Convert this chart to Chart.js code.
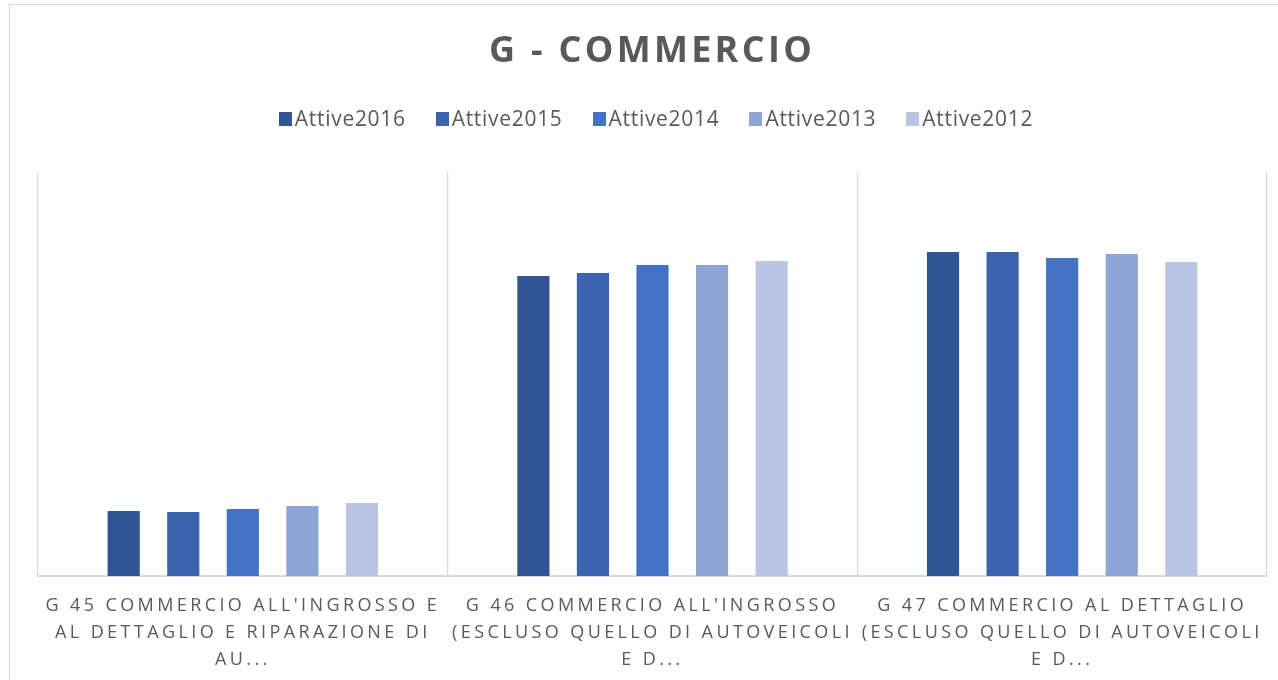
<!DOCTYPE html>
<html><head><meta charset="utf-8">
<script src="https://cdn.jsdelivr.net/npm/chart.js@4/dist/chart.umd.min.js"></script>
<style>html,body{margin:0;padding:0;background:#fff;overflow:hidden;}</style>
</head><body>
<canvas id="c" width="1278" height="680"></canvas>
<script>
const chartTitle = 'G - COMMERCIO';
const categories = [
  ["G 45 COMMERCIO ALL'INGROSSO E", "AL DETTAGLIO E RIPARAZIONE DI", "AU..."],
  ["G 46 COMMERCIO ALL'INGROSSO", "(ESCLUSO QUELLO DI AUTOVEICOLI", "E D..."],
  ["G 47 COMMERCIO AL DETTAGLIO", "(ESCLUSO QUELLO DI AUTOVEICOLI", "E D..."]
];
const seriesNames = ['Attive2016', 'Attive2015', 'Attive2014', 'Attive2013', 'Attive2012'];
const attive2016 = [6500, 30000, 32400];
const attive2015 = [6400, 30300, 32400];
const attive2014 = [6700, 31100, 31800];
const attive2013 = [7000, 31100, 32200];
const attive2012 = [7300, 31500, 31400];
const seriesColors = ['#2F5597', '#3B64AD', '#4472C4', '#8FA5D5', '#BAC4E3'];
const yMax = 40400;

const seriesValues = [attive2016, attive2015, attive2014, attive2013, attive2012];
const datasets = seriesNames.map((n, i) => ({
  label: n, data: seriesValues[i], backgroundColor: seriesColors[i],
  borderWidth: 0, categoryPercentage: 0.727, barPercentage: 0.54
}));

const deco = {
  id: 'deco',
  beforeDraw(chart) {
    const ctx = chart.ctx;
    ctx.save();
    ctx.fillStyle = '#fff';
    ctx.fillRect(0, 0, chart.width, chart.height);
    ctx.strokeStyle = '#d9d9d9';
    ctx.lineWidth = 1;
    ctx.strokeRect(9.5, 4.5, 1400, 800);
    ctx.restore();
    const sx = chart.scales.x;
    if (sx && !sx._lsPatched) {
      const orig = sx.drawLabels.bind(sx);
      sx.drawLabels = function (area) {
        const c = this.ctx; c.save(); c.letterSpacing = '3.4px'; orig(area); c.restore();
      };
      sx._lsPatched = true;
    }
  },
  afterDraw(chart) {
    const ctx = chart.ctx;
    const cx = 651;
    ctx.save();
    // title
    ctx.fillStyle = '#595959';
    ctx.font = 'bold 36px "Open Sans"';
    ctx.letterSpacing = '3.3px';
    ctx.textAlign = 'center';
    ctx.textBaseline = 'middle';
    ctx.fillText(chartTitle, cx + 1, 52);
    // legend
    ctx.font = '21px "Open Sans"';
    ctx.letterSpacing = '0.7px';
    ctx.textAlign = 'left';
    const box = 13, gap = 3, itemGap = 30;
    const ds = chart.data.datasets;
    const widths = ds.map(d => ctx.measureText(d.label).width);
    const total = widths.reduce((a, w) => a + box + gap + w, 0) + itemGap * (ds.length - 1);
    let x = 656 - total / 2;
    const ly = 119;
    ds.forEach((d, i) => {
      ctx.fillStyle = d.backgroundColor;
      ctx.fillRect(Math.round(x), ly - 7, box, 14);
      ctx.fillStyle = '#595959';
      ctx.fillText(d.label, x + box + gap, ly + 1);
      x += box + gap + widths[i] + itemGap;
    });
    ctx.restore();
  }
};

new Chart(document.getElementById('c'), {
  type: 'bar',
  data: { labels: categories, datasets },
  options: {
    responsive: false, animation: false, devicePixelRatio: 1,
    layout: { padding: { top: 172, left: 38, right: 11, bottom: 0 } },
    plugins: { legend: { display: false }, title: { display: false }, tooltip: { enabled: false } },
    scales: {
      x: {
        offset: true,
        grid: { offset: true, color: '#d9d9d9', lineWidth: 1.3, drawTicks: false },
        border: { color: '#d9d9d9', width: 2 },
        ticks: { color: '#595959', font: { family: 'Open Sans', size: 18, lineHeight: 1.5 }, padding: 16, maxRotation: 0, minRotation: 0, autoSkip: false },
        afterFit: s => { s.height = 104; }
      },
      y: { display: false, min: 0, max: yMax }
    }
  },
  plugins: [deco]
});
</script>
</body></html>
